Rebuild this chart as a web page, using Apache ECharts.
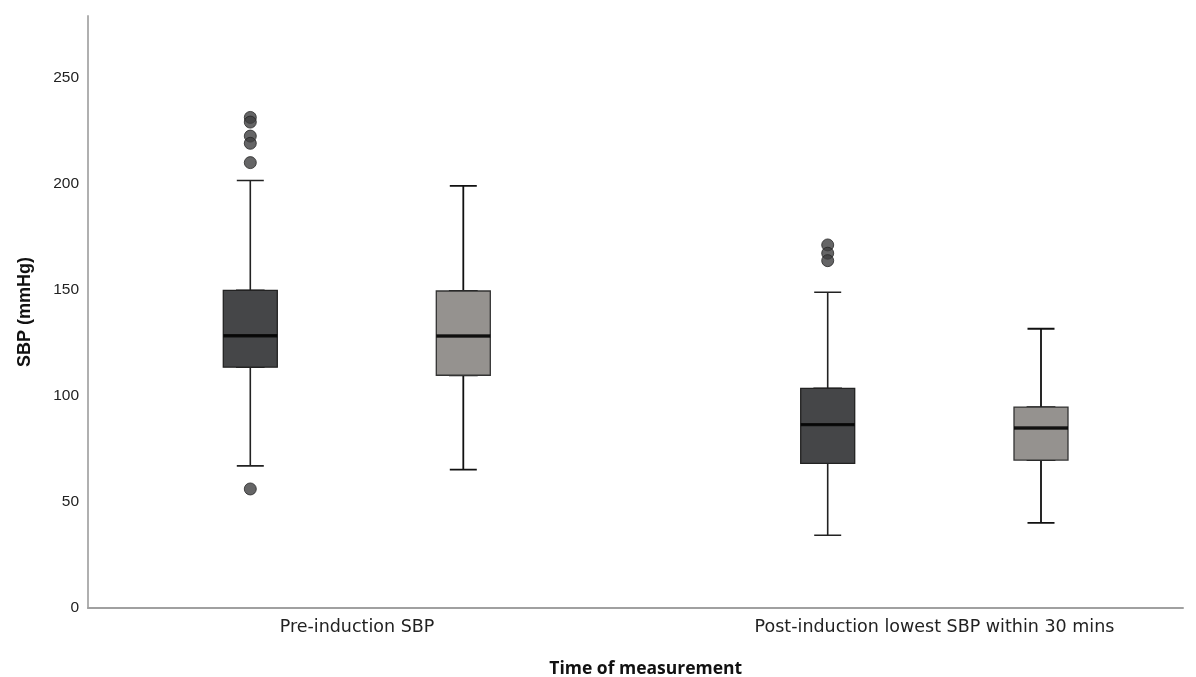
<!DOCTYPE html>
<html>
<head>
<meta charset="utf-8">
<script src="https://cdn.jsdelivr.net/npm/echarts@6/dist/echarts.min.js"></script>
<style>html,body{margin:0;padding:0;background:#fff;}#c{width:1196px;height:677px;}</style>
</head>
<body>
<div id="c"></div>
<script>
const categories = ['Pre-induction SBP', 'Post-induction lowest SBP within 30 mins'];
// [min, Q1, median, Q3, max]
const darkBoxes = [[67, 113.5, 128.3, 149.7, 201.5], [34.3, 68.2, 86.4, 103.5, 148.8]];
const grayBoxes = [[65.2, 109.7, 128.2, 149.4, 198.9], [40.1, 69.7, 84.8, 94.7, 131.6]];
const darkOutliers = [[0, 231.2], [0, 229.0], [0, 222.4], [0, 219.0], [0, 209.9], [0, 56.1],
                      [1, 171.1], [1, 167.2], [1, 163.7]];
const grayOutliers = [];
const yTicks = [0, 50, 100, 150, 200, 250];

const Y_MAX = 279;
const TOP = 16, BOTTOM = 69;
const BOX_W = 54, CAP_W = 27;

function boxOnly(rows) { return rows.map(r => [r[1], r[1], r[2], r[3], r[3]]); }
function medians(rows) { return rows.map((r, i) => [i, r[2]]); }

function hiddenY(gi) {
  return { type: 'value', gridIndex: gi, min: 0, max: Y_MAX, show: false };
}
function hiddenX(gi) {
  return { type: 'category', gridIndex: gi, data: categories, show: false, boundaryGap: false };
}
function grid(left, right) {
  return { left: left, right: right, top: TOP, bottom: BOTTOM, containLabel: false, outerBoundsMode: 'none' };
}

const option = {
  animation: false,
  backgroundColor: '#ffffff',
  grid: [
    grid(88, 13),          // frame
    grid(357, 261.5),      // category labels
    grid(250.3, 368.3),    // dark
    grid(463.3, 155)       // gray
  ],
  xAxis: [
    { type: 'value', gridIndex: 0, min: 0, max: 1, axisLine: { show: true, onZero: false, lineStyle: { color: '#a0a0a0', width: 2 } },
      axisTick: { show: false }, axisLabel: { show: false }, splitLine: { show: false } },
    { type: 'category', gridIndex: 1, data: categories, boundaryGap: false,
      axisLine: { show: false }, axisTick: { show: false },
      axisLabel: { margin: 10, color: '#222', fontFamily: 'DejaVu Sans', fontSize: 17.5 },
      name: 'Time of measurement', nameLocation: 'middle', nameGap: 52,
      nameTextStyle: { color: '#111', fontFamily: 'Open Sans', fontWeight: 'bold', fontSize: 17.5 } },
    hiddenX(2), hiddenX(2), hiddenX(3), hiddenX(3)
  ],
  yAxis: [
    { type: 'value', gridIndex: 0, min: 0, max: Y_MAX, interval: 50,
      axisLine: { show: true, lineStyle: { color: '#b0b0b0', width: 2 } },
      axisTick: { show: false }, splitLine: { show: false },
      axisLabel: { showMaxLabel: false, margin: 9, color: '#222', fontFamily: 'Liberation Sans', fontSize: 15.5,
        formatter: v => (yTicks.indexOf(v) >= 0 ? String(v) : '') },
      name: 'SBP (mmHg)', nameLocation: 'middle', nameGap: 54,
      nameTextStyle: { color: '#111', fontFamily: 'Liberation Sans', fontWeight: 'bold', fontSize: 18 } },
    hiddenY(1), hiddenY(2), hiddenY(3)
  ],
  series: [
    // whiskers (narrow caps)
    { type: 'boxplot', xAxisIndex: 3, yAxisIndex: 2, data: darkBoxes, boxWidth: [CAP_W, CAP_W], z: 2,
      itemStyle: { color: 'transparent', borderColor: '#222', borderWidth: 1.6 } },
    { type: 'boxplot', xAxisIndex: 5, yAxisIndex: 3, data: grayBoxes, boxWidth: [CAP_W, CAP_W], z: 2,
      itemStyle: { color: 'transparent', borderColor: '#111', borderWidth: 1.8 } },
    // boxes
    { type: 'boxplot', xAxisIndex: 2, yAxisIndex: 2, data: boxOnly(darkBoxes), boxWidth: [BOX_W, BOX_W], z: 3,
      itemStyle: { color: '#454648', borderColor: '#222', borderWidth: 1.3 } },
    { type: 'boxplot', xAxisIndex: 4, yAxisIndex: 3, data: boxOnly(grayBoxes), boxWidth: [BOX_W, BOX_W], z: 3,
      itemStyle: { color: '#95928f', borderColor: '#333', borderWidth: 1.3 } },
    // medians
    { type: 'scatter', xAxisIndex: 2, yAxisIndex: 2, data: medians(darkBoxes), symbol: 'rect', symbolSize: [BOX_W, 3.4], z: 4,
      itemStyle: { color: '#000' } },
    { type: 'scatter', xAxisIndex: 4, yAxisIndex: 3, data: medians(grayBoxes), symbol: 'rect', symbolSize: [BOX_W, 3.4], z: 4,
      itemStyle: { color: '#000' } },
    // outliers
    { type: 'scatter', xAxisIndex: 2, yAxisIndex: 2, data: darkOutliers, symbol: 'circle', symbolSize: 12, z: 5,
      itemStyle: { color: '#3e3f40', borderColor: '#262626', borderWidth: 1 } },
    { type: 'scatter', xAxisIndex: 4, yAxisIndex: 3, data: grayOutliers, symbol: 'circle', symbolSize: 12, z: 5,
      itemStyle: { color: '#95928f', borderColor: '#2a2a2a', borderWidth: 1 } }
  ]
};

const chart = echarts.init(document.getElementById('c'));
chart.setOption(option);
</script>
</body>
</html>
